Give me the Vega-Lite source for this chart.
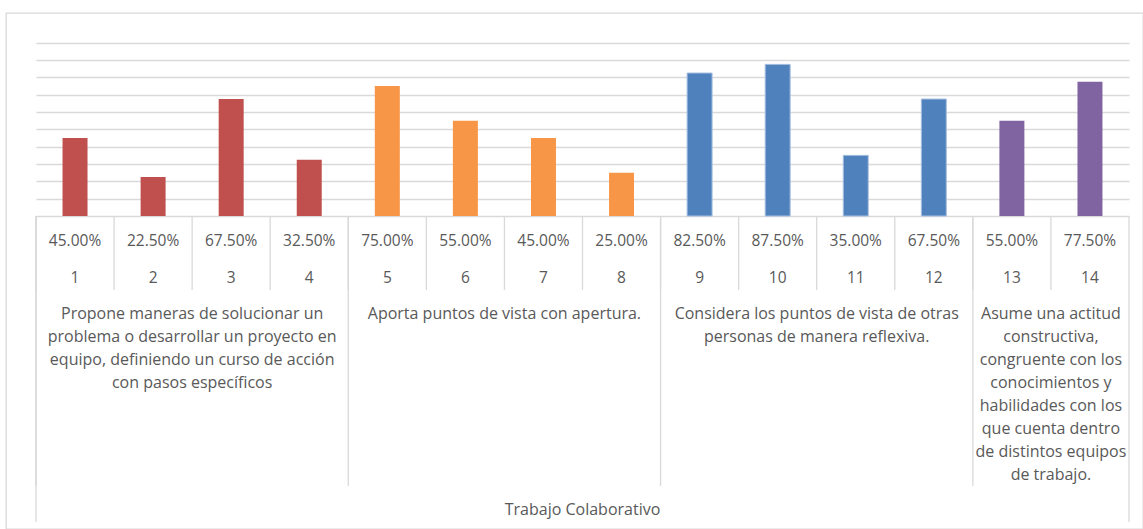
{
  "$schema": "https://vega.github.io/schema/vega-lite/v6.json",
  "width": 1137,
  "height": 516,
  "autosize": "none",
  "padding": {"left": 6, "top": 13, "right": 0, "bottom": 0},
  "background": "white",
  "config": {
    "view": {"stroke": "#d9d9d9", "strokeWidth": 1.3},
    "text": {"font": "Open Sans", "fontSize": 15, "color": "#595959"}
  },
  "datasets": {
    "items": [
      {"item": 1, "pct": 0.45, "group": "G1"},
      {"item": 2, "pct": 0.225, "group": "G1"},
      {"item": 3, "pct": 0.675, "group": "G1"},
      {"item": 4, "pct": 0.325, "group": "G1"},
      {"item": 5, "pct": 0.75, "group": "G2"},
      {"item": 6, "pct": 0.55, "group": "G2"},
      {"item": 7, "pct": 0.45, "group": "G2"},
      {"item": 8, "pct": 0.25, "group": "G2"},
      {"item": 9, "pct": 0.825, "group": "G3"},
      {"item": 10, "pct": 0.875, "group": "G3"},
      {"item": 11, "pct": 0.35, "group": "G3"},
      {"item": 12, "pct": 0.675, "group": "G3"},
      {"item": 13, "pct": 0.55, "group": "G4"},
      {"item": 14, "pct": 0.775, "group": "G4"}
    ],
    "groups": [
      {"group": "G1", "first": 1, "n": 4, "lines": ["Propone maneras de solucionar un", "problema o desarrollar un proyecto en", "equipo, definiendo un curso de acción", "con pasos específicos"]},
      {"group": "G2", "first": 5, "n": 4, "lines": ["Aporta puntos de vista con apertura."]},
      {"group": "G3", "first": 9, "n": 4, "lines": ["Considera los puntos de vista de otras", "personas de manera reflexiva."]},
      {"group": "G4", "first": 13, "n": 2, "lines": ["Asume una actitud", "constructiva,", "congruente con los", "conocimientos y", "habilidades con los", "que cuenta dentro", "de distintos equipos", "de trabajo."]}
    ]
  },
  "layer": [
    {
      "data": {"name": "items"},
      "mark": {"type": "bar", "width": {"band": 0.32}, "strokeWidth": 1},
      "encoding": {
        "x": {
          "field": "item", "type": "ordinal",
          "scale": {"domain": [1,2,3,4,5,6,7,8,9,10,11,12,13,14], "range": [30, 1123], "paddingInner": 0, "paddingOuter": 0},
          "axis": null
        },
        "y": {
          "field": "pct", "type": "quantitative",
          "scale": {"domain": [0, 1], "range": [203, 29.7], "nice": false},
          "axis": {"grid": true, "values": [0,0.1,0.2,0.3,0.4,0.5,0.6,0.7,0.8,0.9,1], "labels": false, "ticks": false, "domain": false, "title": null, "gridColor": "#d9d9d9", "gridWidth": 1.3}
        },
        "color": {
          "field": "group", "type": "nominal",
          "scale": {"domain": ["G1","G2","G3","G4"], "range": ["#C0504D","#F79646","#4F81BD","#8064A2"]},
          "legend": null
        },
        "stroke": {
          "condition": {"test": "datum.group == 'G3'", "value": "#a8c0e0"},
          "value": null
        }
      }
    },
    {
      "data": {"name": "items"},
      "mark": {"type": "rule", "color": "#d9d9d9", "strokeWidth": 1.3},
      "encoding": {
        "x": {"field": "item", "type": "ordinal", "bandPosition": 0},
        "y": {"datum": 0},
        "y2": {"datum": -0.427}
      }
    },
    {
      "data": {"name": "groups"},
      "mark": {"type": "rule", "color": "#d9d9d9", "strokeWidth": 1.3},
      "encoding": {
        "x": {"field": "first", "type": "ordinal", "bandPosition": 0},
        "y": {"datum": 0},
        "y2": {"datum": -1.558}
      }
    },
    {
      "data": {"values": [{}]},
      "mark": {"type": "rule", "color": "#d9d9d9", "strokeWidth": 1.3},
      "encoding": {
        "x": {"datum": 1, "type": "ordinal", "bandPosition": 0},
        "y": {"datum": 0},
        "y2": {"datum": -1.766}
      }
    },
    {
      "data": {"values": [{}]},
      "mark": {"type": "rule", "color": "#d9d9d9", "strokeWidth": 1.3},
      "encoding": {
        "x": {"datum": 14, "type": "ordinal", "bandPosition": 1},
        "y": {"datum": 0},
        "y2": {"datum": -1.766}
      }
    },
    {
      "data": {"name": "items"},
      "mark": {"type": "text", "baseline": "middle", "align": "center", "fontSize": 15.5},
      "encoding": {
        "x": {"field": "item", "type": "ordinal"},
        "y": {"datum": -0.144},
        "text": {"field": "pct", "type": "quantitative", "format": ".2%"}
      }
    },
    {
      "data": {"name": "items"},
      "mark": {"type": "text", "baseline": "middle", "align": "center", "fontSize": 15.5},
      "encoding": {
        "x": {"field": "item", "type": "ordinal"},
        "y": {"datum": -0.358},
        "text": {"field": "item", "type": "ordinal"}
      }
    },
    {
      "data": {"name": "groups"},
      "transform": [{"filter": "datum.n == 4"}],
      "mark": {"type": "text", "baseline": "top", "align": "center", "lineHeight": 23, "fontSize": 16},
      "encoding": {
        "x": {"field": "first", "type": "ordinal", "bandPosition": 2},
        "y": {"datum": -0.521},
        "text": {"field": "lines"}
      }
    },
    {
      "data": {"name": "groups"},
      "transform": [{"filter": "datum.n == 2"}],
      "mark": {"type": "text", "baseline": "top", "align": "center", "lineHeight": 23, "fontSize": 16},
      "encoding": {
        "x": {"field": "first", "type": "ordinal", "bandPosition": 1},
        "y": {"datum": -0.521},
        "text": {"field": "lines"}
      }
    },
    {
      "data": {"values": [{"label": "Trabajo Colaborativo"}]},
      "mark": {"type": "text", "baseline": "middle", "align": "center", "fontSize": 16},
      "encoding": {
        "x": {"datum": 1, "type": "ordinal", "bandPosition": 7},
        "y": {"datum": -1.697},
        "text": {"field": "label"}
      }
    }
  ]
}
